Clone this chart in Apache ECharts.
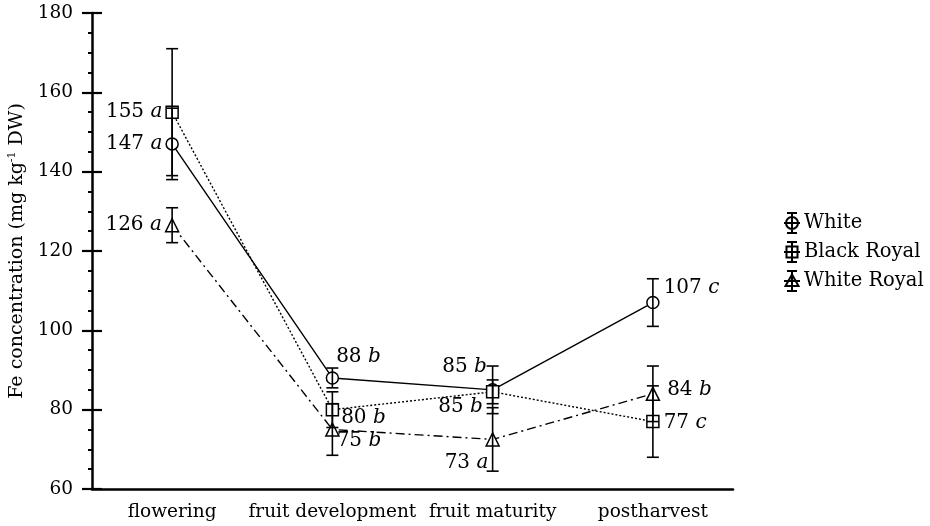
<!DOCTYPE html>
<html>
<head>
<meta charset="utf-8">
<script src="https://cdn.jsdelivr.net/npm/echarts@6/dist/echarts.min.js"></script>
<style>html,body{margin:0;padding:0;background:#fff}#c{width:930px;height:526px}</style>
</head>
<body>
<div id="c"></div>
<script>
const categories = ['flowering', 'fruit development', 'fruit maturity', 'postharvest'];
const yTicks = [60, 80, 100, 120, 140, 160, 180];
const seriesNames = ['White', 'Black Royal', 'White Royal'];
const whiteMean = [147, 88, 85, 107];
const whiteErr = [9, 2.5, 6, 6];
const whiteLetters = ['a', 'b', 'b', 'c'];
const blackMean = [155, 80, 84.5, 77];
const blackErr = [16, 4.5, 3, 9];
const blackLetters = ['a', 'b', 'b', 'c'];
const wroyMean = [126.5, 75, 72.5, 84];
const wroyErr = [4.4, 6.5, 8, 7];
const wroyLetters = ['a', 'b', 'a', 'b'];
const shownValues = {
  White: [147, 88, 85, 107],
  'Black Royal': [155, 80, 85, 77],
  'White Royal': [126, 75, 73, 84]
};

const FONT = 'DejaVu Serif';
const means = [whiteMean, blackMean, wroyMean];
const errs = [whiteErr, blackErr, wroyErr];
const letters = [whiteLetters, blackLetters, wroyLetters];
const symbols = ['circle', 'rect', 'triangle'];
const dashes = ['solid', [2, 2], [9, 4, 2, 4]];
// label placement per series per category: [position, offsetX, offsetY]
const place = [
  [['left', 2, 0], ['right', -8, -21], ['left', 6, -23], ['right', -1, -15]],
  [['left', 2, 0], ['right', -3, 8], ['left', 2, 15], ['right', -1, 1]],
  [['left', 2, 0], ['right', -8, 11], ['left', 8, 23], ['right', 2, -4]]
];

const legendIcons = [
  'path://M10 0L10 20M5 0L15 0M5 20L15 20M2 10L18 10M16 10A6 6 0 1 1 4 10A6 6 0 1 1 16 10Z',
  'path://M10 0L10 20M5 0L15 0M5 20L15 20M2 10L18 10M4.5 4.5L15.5 4.5L15.5 15.5L4.5 15.5Z',
  'path://M10 0L10 20M5 0L15 0M5 20L15 20M2 10L18 10M10 3.5L16.5 15L3.5 15Z'
];

const series = [];
seriesNames.forEach((name, s) => {
  series.push({
    name: name,
    type: 'line',
    data: means[s].map((v, i) => ({
      value: v,
      label: {
        position: place[s][i][0],
        offset: [place[s][i][1], place[s][i][2]],
        distance: 5
      }
    })),
    symbol: symbols[s],
    symbolSize: s === 2 ? 13 : 12,
    showAllSymbol: true,
    z: 3,
    itemStyle: { color: '#fff', borderColor: '#000', borderWidth: 1.5 },
    lineStyle: { color: '#000', width: 1.4, type: dashes[s] },
    label: {
      show: true,
      fontFamily: FONT,
      fontSize: 20,
      color: '#000',
      formatter: p => '{n|' + shownValues[name][p.dataIndex] + ' }{l|' + letters[s][p.dataIndex] + '}',
      rich: {
        n: { fontFamily: FONT, fontSize: 20, color: '#000' },
        l: { fontFamily: FONT, fontSize: 20, fontStyle: 'italic', color: '#000' }
      }
    },
    emphasis: { disabled: true },
    animation: false
  });
  series.push({
    name: name,
    type: 'custom',
    z: 5,
    data: means[s].map((v, i) => [i, v - errs[s][i], v + errs[s][i]]),
    renderItem: (params, api) => {
      const lo = api.coord([api.value(0), api.value(1)]);
      const hi = api.coord([api.value(0), api.value(2)]);
      const hw = 6;
      const st = { stroke: '#000', lineWidth: 1.6 };
      return {
        type: 'group',
        children: [
          { type: 'line', shape: { x1: lo[0], y1: lo[1], x2: hi[0], y2: hi[1] }, style: st },
          { type: 'line', shape: { x1: lo[0] - hw, y1: lo[1], x2: lo[0] + hw, y2: lo[1] }, style: st },
          { type: 'line', shape: { x1: hi[0] - hw, y1: hi[1], x2: hi[0] + hw, y2: hi[1] }, style: st }
        ]
      };
    },
    silent: true,
    animation: false
  });
});

const yMin = yTicks[0], yMax = yTicks[yTicks.length - 1];
const chart = echarts.init(document.getElementById('c'), null, { renderer: 'canvas' });
chart.setOption({
  backgroundColor: '#fff',
  animation: false,
  grid: { left: 92, right: 197, top: 13, bottom: 37, containLabel: false, outerBoundsMode: 'none' },
  legend: {
    orient: 'vertical',
    left: 778,
    top: 207,
    itemWidth: 18,
    itemHeight: 20,
    itemGap: 7,
    selectedMode: false,
    textStyle: { fontFamily: FONT, fontSize: 19.5, lineHeight: 20, color: '#000', padding: [0, 0, 0, -2] },
    itemStyle: { color: 'rgba(0,0,0,0)', borderColor: '#000', borderWidth: 2 },
    data: seriesNames.map((n, i) => ({ name: n, icon: legendIcons[i] }))
  },
  xAxis: [{
    type: 'category',
    data: categories,
    boundaryGap: true,
    axisLine: { lineStyle: { color: '#000', width: 2.5 } },
    axisTick: { alignWithLabel: true, length: 6, lineStyle: { width: 2, color: '#000' } },
    axisLabel: { interval: 0, margin: 14, fontFamily: FONT, fontSize: 18.5, color: '#000' },
    splitLine: { show: false }
  }, {
    type: 'category',
    data: categories,
    position: 'bottom',
    boundaryGap: true,
    axisLine: { show: false },
    axisTick: { inside: true, alignWithLabel: true, length: 6, lineStyle: { width: 2, color: '#000' } },
    axisLabel: { show: false },
    splitLine: { show: false }
  }],
  yAxis: [{
    type: 'value',
    min: yMin, max: yMax, interval: 20,
    name: '{a|Fe concentration (mg kg}{s|-1}{a| DW)}',
    nameLocation: 'middle',
    nameGap: 63,
    nameRotate: 90,
    nameTextStyle: {
      rich: {
        a: { fontFamily: FONT, fontSize: 19, color: '#000', lineHeight: 22 },
        s: { fontFamily: FONT, fontSize: 11, color: '#000', verticalAlign: 'top', lineHeight: 22 }
      }
    },
    axisLine: { show: true, lineStyle: { color: '#000', width: 2.5 } },
    axisTick: { show: true, length: 10, lineStyle: { width: 2.2, color: '#000' } },
    minorTick: { show: true, splitNumber: 4, length: 4, lineStyle: { width: 2, color: '#000' } },
    axisLabel: { margin: 19, fontFamily: FONT, fontSize: 18.5, color: '#000' },
    splitLine: { show: false }
  }, {
    type: 'value',
    min: yMin, max: yMax, interval: 20,
    position: 'left',
    axisLine: { show: false },
    axisTick: { show: true, inside: true, length: 10, lineStyle: { width: 2.2, color: '#000' } },
    axisLabel: { show: false },
    splitLine: { show: false }
  }],
  series: series
});
</script>
</body>
</html>
